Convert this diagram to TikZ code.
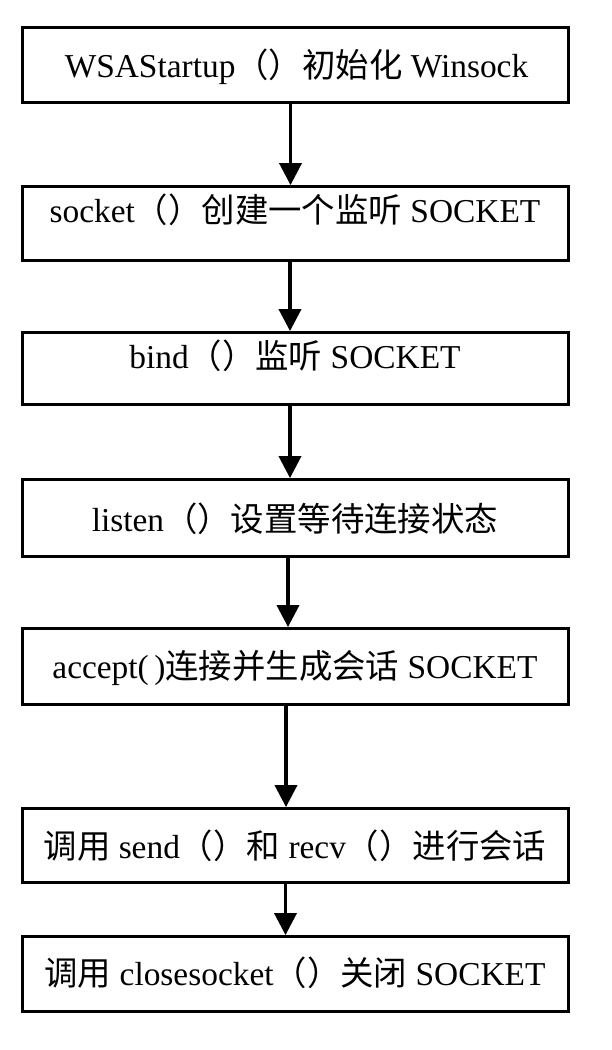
\documentclass[tikz,border=0pt]{standalone}
\usepackage{fontspec}
\setmainfont{Liberation Serif}
\newfontfamily\cjk{Noto Sans CJK SC}
\usetikzlibrary{arrows.meta}
\tikzset{
  stepbox/.style={draw=black, line width=2.8pt, rectangle, inner sep=0pt, minimum width=546pt},
  label/.style={inner sep=0pt, text height=29.4pt, text depth=4pt, font=\fontsize{33.4}{40}\selectfont},
  arr/.style={line width=3.6pt, -{Triangle[width=22pt,length=22pt]}},
}
\begin{document}
\begin{tikzpicture}[x=1pt,y=-1pt]
\useasboundingbox (0,0) rectangle (612,1050);
\fill[white] (0,0) rectangle (612,1050);
% boxes
\node[stepbox, minimum height=75pt] (b1) at (295.5,65) {};
\node[stepbox, minimum height=74pt] (b2) at (295.5,223.5) {};
\node[stepbox, minimum height=72pt] (b3) at (295.5,368.5) {};
\node[stepbox, minimum height=77pt] (b4) at (295.5,518) {};
\node[stepbox, minimum height=76pt] (b5) at (295.5,666.5) {};
\node[stepbox, minimum height=74pt] (b6) at (295.5,845.5) {};
\node[stepbox, minimum height=75pt] (b7) at (295.5,974) {};
% texts
\node[label] (t1) at (296.5,65) {WSAStartup{\cjk （）初始化} Winsock};
\node[label] (t2) at (295,210) {socket{\cjk （）创建一个监听} SOCKET};
\node[label] (t3) at (295,356) {bind{\cjk （）监听} SOCKET};
\node[label] (t4) at (295,519) {listen{\cjk （）设置等待连接状态}};
\node[label] (t5) at (295,666) {accept(\,){\cjk 连接并生成会话} SOCKET};
\node[label] (t6) at (295,846) {{\cjk 调用} send{\cjk （）和} recv{\cjk （）进行会话}};
\node[label] (t7) at (295,973) {{\cjk 调用} closesocket{\cjk （）关闭} SOCKET};
% arrow columns
\coordinate (a1) at (290.5,0);
\coordinate (a2) at (290,0);
\coordinate (a3) at (290,0);
\coordinate (a4) at (288,0);
\coordinate (a5) at (286,0);
\coordinate (a6) at (285.5,0);
\draw[arr] (b1.south -| a1) -- (b2.north -| a1);
\draw[arr] (b2.south -| a2) -- (b3.north -| a2);
\draw[arr] (b3.south -| a3) -- (b4.north -| a3);
\draw[arr] (b4.south -| a4) -- (b5.north -| a4);
\draw[arr] (b5.south -| a5) -- (b6.north -| a5);
\draw[arr] (b6.south -| a6) -- (b7.north -| a6);
\end{tikzpicture}
\end{document}
